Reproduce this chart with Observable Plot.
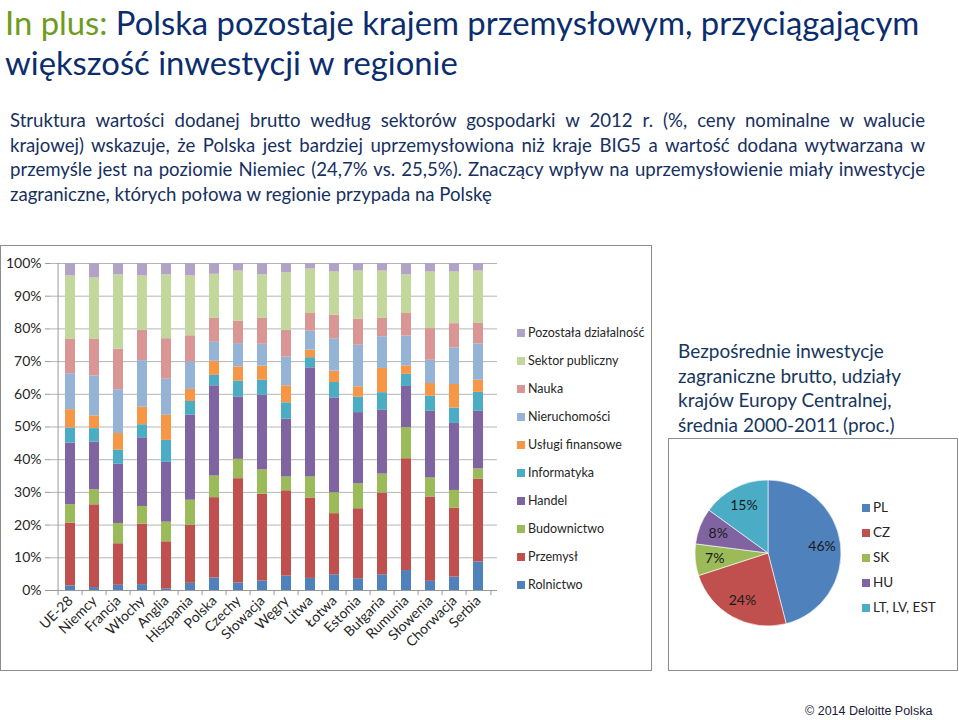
<!DOCTYPE html>
<html><head><meta charset="utf-8">
<script src="https://cdn.jsdelivr.net/npm/d3@7"></script>
<script src="https://cdn.jsdelivr.net/npm/@observablehq/plot@0.6"></script>
<style>
body{margin:0;background:#fff;}
#page{position:relative;width:959px;height:720px;overflow:hidden;font-family:Lato,sans-serif;}
.t1{position:absolute;left:5px;top:3px;font-size:32.8px;color:#0b2d6e;white-space:nowrap;line-height:40px;}
.sub{position:absolute;left:10px;width:915px;font-size:18.6px;color:#17305f;line-height:24.5px;}
.sub div{text-align:justify;text-align-last:justify;white-space:nowrap;}
.sub div.last{text-align-last:left;}
.box{position:absolute;border:1.5px solid #8c8c8c;box-sizing:border-box;}
.leg{position:absolute;font-size:12.5px;color:#262626;white-space:nowrap;line-height:16px;}
.leg span.sq{display:inline-block;width:8px;height:8px;margin-right:3px;vertical-align:0px;}
.ptitle{position:absolute;left:678px;top:339px;font-size:19px;color:#17365d;line-height:24.5px;white-space:nowrap;}
.foot{position:absolute;left:805px;top:704px;font-family:"Liberation Sans",Arial,sans-serif;font-size:12.5px;color:#1a1a3a;}
#main g[aria-label="y-axis tick"], #main g[aria-label="x-axis tick"]{stroke:#999;}
</style></head>
<body><div id="page">
<div class="t1"><span style="color:#6e9b1c">In plus:</span> Polska pozostaje krajem przemysłowym, przyciągającym<br>większość inwestycji w regionie</div>
<div class="sub" style="top:108px">
<div>Struktura wartości dodanej brutto według sektorów gospodarki w 2012 r. (%, ceny nominalne w walucie</div>
<div>krajowej) wskazuje, że Polska jest bardziej uprzemysłowiona niż kraje BIG5 a wartość dodana wytwarzana w</div>
<div>przemyśle jest na poziomie Niemiec (24,7% vs. 25,5%). Znaczący wpływ na uprzemysłowienie miały inwestycje</div>
<div class="last">zagraniczne, których połowa w regionie przypada na Polskę</div>
</div>
<div class="box" style="left:0;top:245px;width:652px;height:426px"></div>
<div id="main" style="position:absolute;left:0;top:245px"></div>
<div id="legMain"></div>
<div class="ptitle">Bezpośrednie inwestycje<br>zagraniczne brutto, udziały<br>krajów Europy Centralnej,<br>średnia 2000-2011 (proc.)</div>
<div class="box" style="left:668px;top:438px;width:290px;height:233px"></div>
<div id="pie" style="position:absolute;left:668px;top:438px"></div>
<div id="legPie"></div>
<div class="foot">© 2014 Deloitte Polska</div>
</div>
<script>
const countries = ["UE-28","Niemcy","Francja","Włochy","Anglia","Hiszpania","Polska","Czechy","Słowacja","Węgry","Litwa","Łotwa","Estonia","Bułgaria","Rumunia","Słowenia","Chorwacja","Serbia"];
const sectors = ["Rolnictwo","Przemysł","Budownictwo","Handel","Informatyka","Usługi finansowe","Nieruchomości","Nauka","Sektor publiczny","Pozostała działalność"];
const sectorColors = ["#4F81BD","#C0504D","#9BBB59","#8064A2","#4BACC6","#F79646","#95B3D7","#D99694","#C3D69B","#B3A2C7"];
const rolnictwo     = [1.4,0.9,1.6,1.8,0.5,2.2,3.8,2.3,2.9,4.4,3.7,4.8,3.6,4.8,6.1,2.8,4.1,8.7];
const przemysl      = [19.2,25.3,12.7,18.5,14.4,17.7,24.6,31.9,26.5,26.1,24.6,18.7,21.4,25.0,34.2,25.8,21.1,25.3];
const budownictwo   = [5.6,4.6,6.2,5.4,6.0,7.7,6.6,5.9,7.5,4.2,6.4,6.4,7.6,5.8,9.5,5.8,5.4,3.2];
const handel        = [18.9,14.6,18.1,21.0,18.3,26.0,27.6,19.1,22.8,17.7,33.4,29.0,21.8,19.5,12.6,20.4,20.5,17.6];
const informatyka   = [4.6,4.1,4.3,4.0,6.7,4.2,3.2,4.8,4.6,5.0,3.1,4.7,4.7,5.4,3.7,4.6,4.7,5.8];
const finanse       = [5.6,3.9,5.1,5.4,7.7,3.7,4.3,4.4,4.3,5.2,2.3,3.5,3.2,7.4,2.6,3.9,7.2,3.7];
const nieruchomosci = [11.0,12.2,13.4,14.2,11.0,8.4,5.8,7.1,6.7,8.8,5.8,9.9,12.7,9.7,9.1,7.1,11.2,11.1];
const nauka         = [10.5,11.2,12.4,9.3,12.4,8.0,7.3,6.8,7.9,8.2,5.4,7.2,8.0,5.6,6.9,9.7,7.4,6.4];
const publiczny     = [19.4,18.8,22.8,16.6,19.6,18.3,13.5,15.4,13.4,17.6,13.6,13.2,14.7,14.5,11.9,17.3,15.8,15.9];
const pozostala     = [3.8,4.4,3.4,3.8,3.4,3.8,3.3,2.3,3.4,2.8,1.7,2.6,2.3,2.3,3.4,2.6,2.6,2.3];
const sectorValues = [rolnictwo,przemysl,budownictwo,handel,informatyka,finanse,nieruchomosci,nauka,publiczny,pozostala];
const yTicks = [0,10,20,30,40,50,60,70,80,90,100];

const pieLabels = ["PL","CZ","SK","HU","LT, LV, EST"];
const pieValues = [46,24,7,8,15];
const pieColors = ["#4F81BD","#C0504D","#9BBB59","#8064A2","#4BACC6"];

// ---- main stacked chart
const rows = sectors.flatMap((s,i)=>countries.map((c,j)=>({country:c, sector:s, value:sectorValues[i][j]})));
const W=651,H=426,ML=50,MR=154,MT=18,MB=81;
const step=(W-ML-MR)/countries.length;
const main = Plot.plot({
  width:W,height:H,marginLeft:ML,marginRight:MR,marginTop:MT,marginBottom:MB,
  style:{fontFamily:"Lato, sans-serif",fontSize:"14px",color:"#262626",background:"transparent",overflow:"visible"},
  x:{domain:countries,paddingInner:0.6,paddingOuter:0.3,label:null,tickRotate:-45,tickSize:0,tickPadding:8},
  y:{domain:[0,100],ticks:yTicks,tickFormat:d=>d+"%",label:null,tickSize:5,tickPadding:4},
  color:{domain:sectors,range:sectorColors},
  marks:[
    Plot.ruleY(yTicks,{stroke:"#b5b5b5",strokeWidth:1}),
    Plot.barY(rows,{x:"country",y:"value",fill:"sector"}),
    Plot.ruleY([0],{stroke:"#999"}),
    Plot.ruleX([countries[0]],{x:d=>d,dx:-step/2,y1:0,y2:100,stroke:"#999"}),
    Plot.ruleX(countries,{x:d=>d,dx:-step/2,y1:0,y2:-1.6,stroke:"#999"}),
    Plot.ruleX([countries[countries.length-1]],{x:d=>d,dx:step/2,y1:0,y2:-1.6,stroke:"#999"})
  ]
});
document.getElementById("main").append(main);

// legend main (top to bottom reversed)
const lm=document.getElementById("legMain");
sectors.slice().reverse().forEach((s,k)=>{
  const d=document.createElement("div");d.className="leg";
  d.style.left="517px";d.style.top=(325+28*k)+"px";
  const col=sectorColors[sectors.indexOf(s)];
  d.innerHTML=`<span class="sq" style="background:${col}"></span>${s}`;
  lm.append(d);
});

// ---- pie
const pieScale = Plot.scale({color:{type:"ordinal",domain:pieLabels,range:pieColors}});
const cx=100,cy=115,R=73;
const arcs=d3.pie().sort(null).value(d=>d.value)(pieLabels.map((l,i)=>({label:l,value:pieValues[i]})));
const arcGen=d3.arc().innerRadius(0).outerRadius(R);
const lab=d3.arc().innerRadius(R*0.74).outerRadius(R*0.74);
const labels=arcs.map(a=>{const [x,y]=lab.centroid(a);return {x:cx+x,y:cy+y,text:a.data.value+"%"};});
const pie=Plot.plot({
  width:289,height:232,margin:0,
  style:{fontFamily:"Lato, sans-serif",fontSize:"14px",background:"transparent"},
  x:{type:"identity",axis:null},y:{type:"identity",axis:null},
  marks:[
    ()=>{const g=d3.create("svg:g").attr("transform",`translate(${cx},${cy})`);
      g.selectAll("path").data(arcs).join("path").attr("d",arcGen)
       .attr("fill",d=>pieScale.apply(d.data.label)).attr("stroke","#fff").attr("stroke-width",0.6);
      return g.node();},
    Plot.text(labels,{x:"x",y:"y",text:"text",fill:"#1a1a1a",fontSize:14})
  ]
});
document.getElementById("pie").append(pie);

const lp=document.getElementById("legPie");
pieLabels.forEach((l,k)=>{
  const d=document.createElement("div");d.className="leg";
  d.style.left="862px";d.style.top=(499+25*k)+"px";d.style.fontSize="13.5px";
  d.innerHTML=`<span class="sq" style="background:${pieColors[k]}"></span>${l}`;
  lp.append(d);
});
</script>
</body></html>
